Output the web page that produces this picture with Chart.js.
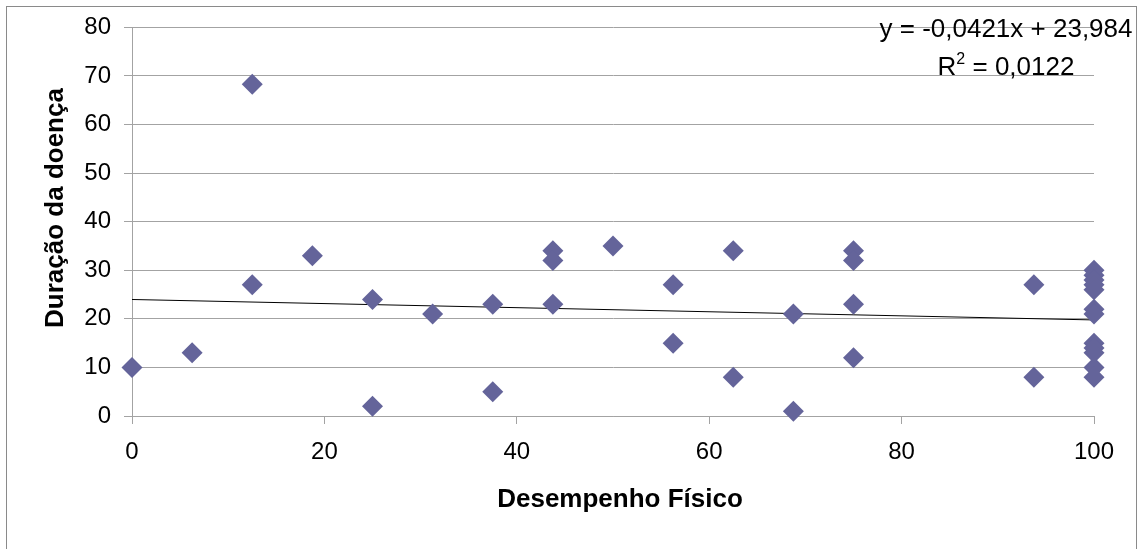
<!DOCTYPE html>
<html>
<head>
<meta charset="utf-8">
<script src="https://cdn.jsdelivr.net/npm/chart.js@4/dist/chart.umd.min.js"></script>
<style>
  html, body { margin: 0; padding: 0; background: #ffffff; }
  #wrap { width: 1144px; height: 549px; position: relative; }
</style>
</head>
<body>
<div id="wrap"><canvas id="c" width="1144" height="549"></canvas></div>
<script>
// Desempenho Físico (x) vs. Duração da doença (y), one entry per patient
const desempenhoFisico = [
  0, 6.25, 12.5, 12.5, 18.75, 25, 25, 31.25, 37.5, 37.5,
  43.75, 43.75, 43.75, 50, 56.25, 56.25, 62.5, 62.5, 68.75, 68.75,
  75, 75, 75, 75, 93.75, 93.75,
  100, 100, 100, 100, 100, 100, 100, 100, 100, 100, 100, 100
];
const duracaoDoenca = [
  10, 13, 68.3, 27, 33, 24, 2, 21, 23, 5,
  34, 32, 23, 35, 27, 15, 34, 8, 21, 1,
  34, 32, 23, 12, 27, 8,
  30, 29, 28, 27, 26, 22, 21, 15, 14, 13, 10, 8
];

// Linear trend line as reported on the chart
const trendSlope = -0.0421;
const trendIntercept = 23.984;
const trendRange = [0, 100];
const equationText = 'y = -0,0421x + 23,984';
const r2Text = ' = 0,0122';

// Axis ticks
const xTicks = [0, 20, 40, 60, 80, 100];
const yTicks = [0, 10, 20, 30, 40, 50, 60, 70, 80];

const xTitle = 'Desempenho Físico';
const yTitle = 'Duração da doença';

const points = desempenhoFisico.map((x, i) => ({ x: x, y: duracaoDoenca[i] }));
const trendPoints = trendRange.map(x => ({ x: x, y: trendIntercept + trendSlope * x }));

const FONT = '"Liberation Sans", Arial, Helvetica, sans-serif';
const GRID = '#a3a3a3';
const MARK = '#64649a';

const decorations = {
  id: 'decorations',
  beforeDraw(chart) {
    const ctx = chart.ctx;
    ctx.save();
    ctx.fillStyle = '#ffffff';
    ctx.fillRect(0, 0, chart.width, chart.height);
    ctx.strokeStyle = '#8a8a8a';
    ctx.lineWidth = 1;
    ctx.strokeRect(6.5, 6.5, 1130, 600);
    ctx.restore();
  },
  afterDraw(chart) {
    const ctx = chart.ctx;
    const area = chart.chartArea;
    ctx.save();
    ctx.fillStyle = '#000000';

    // axis titles
    ctx.font = 'bold 26px ' + FONT;
    ctx.textAlign = 'center';
    ctx.textBaseline = 'alphabetic';
    ctx.fillText(xTitle, (area.left + area.right) / 2 + 7, 507);

    ctx.save();
    ctx.translate(63, 208);
    ctx.rotate(-Math.PI / 2);
    ctx.fillText(yTitle, 0, 0);
    ctx.restore();

    // trend line equation and R²
    const cx = 1006;
    ctx.font = '26px ' + FONT;
    ctx.textAlign = 'center';
    ctx.fillText(equationText, cx, 37);

    ctx.textAlign = 'left';
    const wR = ctx.measureText('R').width;
    const wRest = ctx.measureText(r2Text).width;
    ctx.font = '16px ' + FONT;
    const wSup = ctx.measureText('2').width;
    const total = wR + wSup + wRest;
    const x0 = cx - total / 2;
    ctx.font = '26px ' + FONT;
    ctx.fillText('R', x0, 75);
    ctx.font = '16px ' + FONT;
    ctx.fillText('2', x0 + wR, 64);
    ctx.font = '26px ' + FONT;
    ctx.fillText(r2Text, x0 + wR + wSup, 75);
    ctx.restore();
  }
};

new Chart(document.getElementById('c'), {
  type: 'scatter',
  data: {
    datasets: [
      {
        type: 'scatter',
        label: 'Duração da doença',
        data: points,
        pointStyle: 'rectRot',
        pointRadius: 10.5,
        pointHoverRadius: 10.5,
        backgroundColor: MARK,
        borderColor: MARK,
        borderWidth: 0,
        clip: false,
        order: 1
      },
      {
        type: 'line',
        label: 'Tendência',
        data: trendPoints,
        borderColor: '#000000',
        borderWidth: 1,
        pointRadius: 0,
        fill: false,
        tension: 0,
        clip: false,
        order: 2
      }
    ]
  },
  plugins: [decorations],
  options: {
    responsive: false,
    animation: false,
    events: [],
    layout: { padding: { top: 25, right: 50, bottom: 0, left: 0 } },
    plugins: {
      legend: { display: false },
      tooltip: { enabled: false },
      title: { display: false }
    },
    scales: {
      x: {
        type: 'linear',
        min: xTicks[0],
        max: xTicks[xTicks.length - 1],
        afterBuildTicks(scale) { scale.ticks = xTicks.map(v => ({ value: v })); },
        afterFit(scale) { scale.height = 133; },
        grid: { display: true, drawOnChartArea: false, drawTicks: true, tickLength: 8, color: GRID, lineWidth: 1 },
        border: { display: true, color: GRID, width: 1 },
        ticks: { color: '#000000', padding: 14, maxRotation: 0, font: { family: FONT, size: 24 } }
      },
      y: {
        type: 'linear',
        min: yTicks[0],
        max: yTicks[yTicks.length - 1],
        afterBuildTicks(scale) { scale.ticks = yTicks.map(v => ({ value: v })); },
        afterFit(scale) { scale.width = 132; },
        grid: { display: true, drawOnChartArea: true, drawTicks: true, tickLength: 8, color: GRID, lineWidth: 1 },
        border: { display: true, color: GRID, width: 1 },
        ticks: { color: '#000000', padding: 13, font: { family: FONT, size: 24 } }
      }
    }
  }
});
</script>
</body>
</html>
